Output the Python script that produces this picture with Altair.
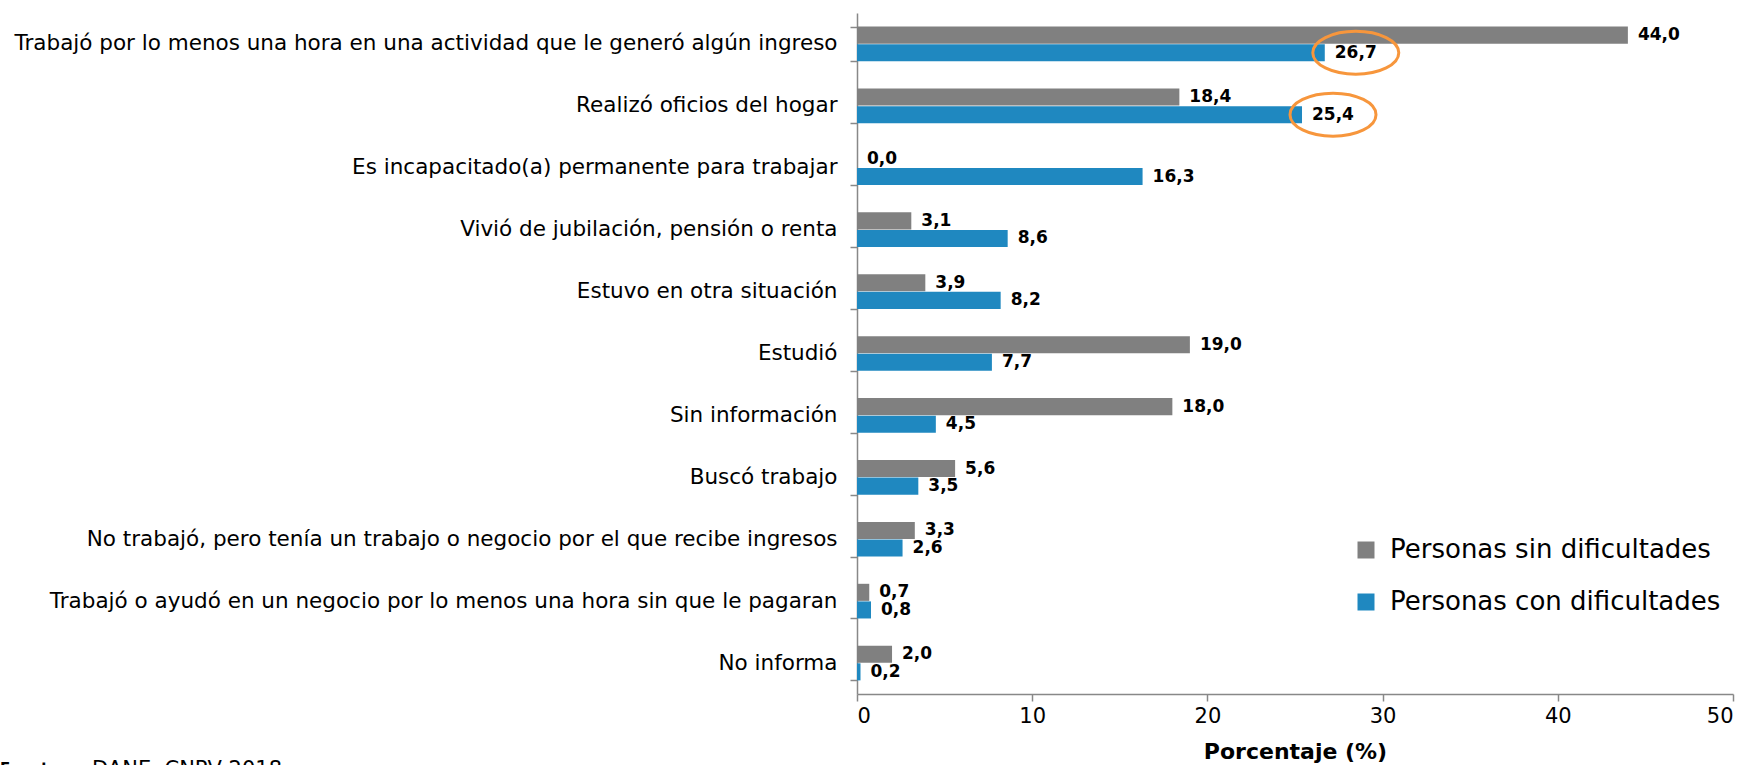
import altair as alt
import pandas as pd

# Actividad realizada la semana anterior, por condición de dificultad
categorias = [
    "Trabajó por lo menos una hora en una actividad que le generó algún ingreso",
    "Realizó oficios del hogar",
    "Es incapacitado(a) permanente para trabajar",
    "Vivió de jubilación, pensión o renta",
    "Estuvo en otra situación",
    "Estudió",
    "Sin información",
    "Buscó trabajo",
    "No trabajó, pero tenía un trabajo o negocio por el que recibe ingresos",
    "Trabajó o ayudó en un negocio por lo menos una hora sin que le pagaran",
    "No informa",
]
series = ["Personas sin dificultades", "Personas con dificultades"]
sin_dificultades = [44.0, 18.4, 0.0, 3.1, 3.9, 19.0, 18.0, 5.6, 3.3, 0.7, 2.0]
con_dificultades = [26.7, 25.4, 16.3, 8.6, 8.2, 7.7, 4.5, 3.5, 2.6, 0.8, 0.2]
colores = ["#808080", "#1F88C0"]
destacados = ["Trabajó por lo menos una hora en una actividad que le generó algún ingreso",
              "Realizó oficios del hogar"]
ticks_x = [0, 10, 20, 30, 40, 50]

FONT = "DejaVu Sans"

filas = []
for serie, valores in zip(series, [sin_dificultades, con_dificultades]):
    for cat, v in zip(categorias, valores):
        filas.append({"categoria": cat, "serie": serie, "valor": v})
df = pd.DataFrame(filas)
df_destacado = df[(df.serie == series[1]) & (df.categoria.isin(destacados))]

y_enc = alt.Y(
    "categoria:N", sort=categorias, title=None,
    scale=alt.Scale(paddingInner=0.44, paddingOuter=0.22),
    axis=alt.Axis(tickBand="extent", tickSize=7, labelFontSize=21.5, labelFont=FONT,
                  labelColor="#000000", labelLimit=1000, labelPadding=13,
                  domainColor="#888888", tickColor="#888888", domainWidth=1.5, tickWidth=1.5),
)
yoff_enc = alt.YOffset("serie:N", sort=series, scale=alt.Scale(paddingInner=0.03))
x_enc = alt.X(
    "valor:Q", scale=alt.Scale(domain=[0, 50], nice=False),
    axis=alt.Axis(values=ticks_x, title="Porcentaje (%)", grid=False, tickSize=7,
                  labelFontSize=21, labelFont=FONT, labelColor="#000000", labelPadding=4,
                  titleFontSize=22, titleFont=FONT, titleFontWeight="bold", titleColor="#000000",
                  titlePadding=15, domainColor="#888888", tickColor="#888888",
                  domainWidth=1.5, tickWidth=1.5),
)

barras = alt.Chart(df).mark_bar(yOffset=-2).encode(
    x=x_enc, y=y_enc, yOffset=yoff_enc,
    color=alt.Color(
        "serie:N", sort=series,
        scale=alt.Scale(domain=series, range=colores),
        legend=alt.Legend(title=None, orient="none", legendX=496, legendY=524,
                          symbolType="square", symbolSize=289, symbolStrokeWidth=0,
                          labelFontSize=26, labelFont=FONT, labelColor="#000000",
                          labelOffset=11, rowPadding=26, labelLimit=1000),
    ),
)

etiquetas = alt.Chart(df).transform_calculate(
    texto="replace(format(datum.valor, '.1f'), '.', ',')"
).mark_text(align="left", baseline="middle", dx=10, yOffset=-2, fontSize=17,
            fontWeight="bold", font=FONT, color="#000000").encode(
    x="valor:Q", y=alt.Y("categoria:N", sort=categorias), yOffset=yoff_enc, text="texto:N",
)

# Elipses naranjas que resaltan los valores de las personas con dificultades
elipse = ("M -1 0 C -1 -0.276 -0.552 -0.5 0 -0.5 C 0.552 -0.5 1 -0.276 1 0 "
          "C 1 0.276 0.552 0.5 0 0.5 C -0.552 0.5 -1 0.276 -1 0 Z")
resaltes = alt.Chart(df_destacado).mark_point(
    shape=elipse, filled=False, stroke="#F7963C", strokeWidth=3, size=7396,
    xOffset=31, yOffset=1, opacity=1,
).encode(
    x="valor:Q", y=alt.Y("categoria:N", sort=categorias), yOffset=yoff_enc,
)

fuente = pd.DataFrame({"t": ["Fuente:"], "u": ["DANE, CNPV 2018"]})
fuente_a = alt.Chart(fuente).mark_text(align="left", baseline="alphabetic", fontSize=15,
                                       fontWeight="bold", font=FONT, color="#000000").encode(
    x=alt.value(-857), y=alt.value(761), text="t:N")
fuente_b = alt.Chart(fuente).mark_text(align="left", baseline="alphabetic", fontSize=21,
                                       font=FONT, color="#000000").encode(
    x=alt.value(-765), y=alt.value(763), text="u:N")

chart = alt.layer(barras, etiquetas, resaltes, fuente_a, fuente_b).properties(
    width=876, height=681,
    autosize=alt.AutoSizeParams(type="none"),
    padding={"left": 857, "top": 13, "right": 17, "bottom": 71},
    background="#FFFFFF",
).configure_view(stroke=None)

chart.save("out.html", embed_options={"renderer": "svg", "actions": False})
